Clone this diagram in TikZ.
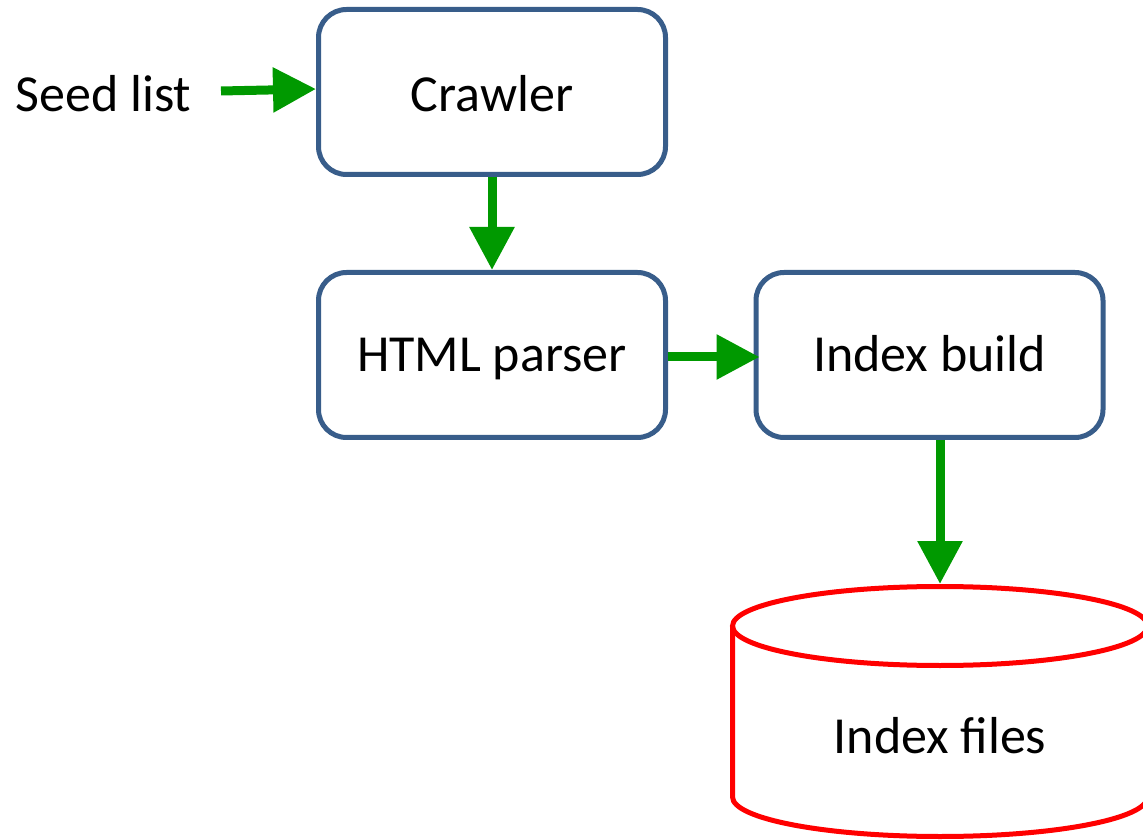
\documentclass[tikz,border=0pt]{standalone}
\usepackage{fontspec}
\setmainfont{Carlito}
\usetikzlibrary{arrows.meta}
\definecolor{boxblue}{RGB}{56,93,138}
\definecolor{flowgreen}{RGB}{0,153,0}
\definecolor{storered}{RGB}{255,0,0}
\begin{document}
\begin{tikzpicture}[x=1pt,y=1pt,
  every node/.style={font=\fontsize{52}{60}\selectfont, inner sep=0pt},
  stage/.style={draw=boxblue, line width=5pt, rounded corners=28pt,
    minimum width=347pt, minimum height=165pt,
    text height=34pt, text depth=0pt},
  flow/.style={draw=flowgreen, line width=9pt,
    -{Triangle[length=43pt,width=43pt]}},
  store/.style={draw=storered, line width=5pt}]
\useasboundingbox (0,0) rectangle (1143,839);

% processing stages
\node[stage, text height=39pt] (crawler) at (492,747) {Crawler};
\node[stage] (html) at (492,484) {HTML parser};
\node[stage] (index) at (929.5,484) {Index build};

% input label
\node[anchor=base] (seed) at (103.5,727) {Seed list};
\coordinate (seedout) at (221,748);

% index store (cylinder)
\draw[store] (732.5,213) -- (732.5,42)
  arc[start angle=180, end angle=360, x radius=207.5, y radius=39.5]
  -- (1147.5,213);
\draw[store] (940,213) ellipse [x radius=207.5, y radius=39.5];
\coordinate (filestop) at (940,255);
\node[anchor=base] (files) at (940,86) {Index files};

% data flow
\draw[flow] (seedout) -- ([yshift=3pt]crawler.west);
\draw[flow] (crawler.south) -- (html.north);
\draw[flow] ([yshift=-2pt]html.east) -- ([xshift=6pt,yshift=-2pt]index.west);
\draw[flow] (index.south -| filestop) -- (filestop);
\end{tikzpicture}
\end{document}
